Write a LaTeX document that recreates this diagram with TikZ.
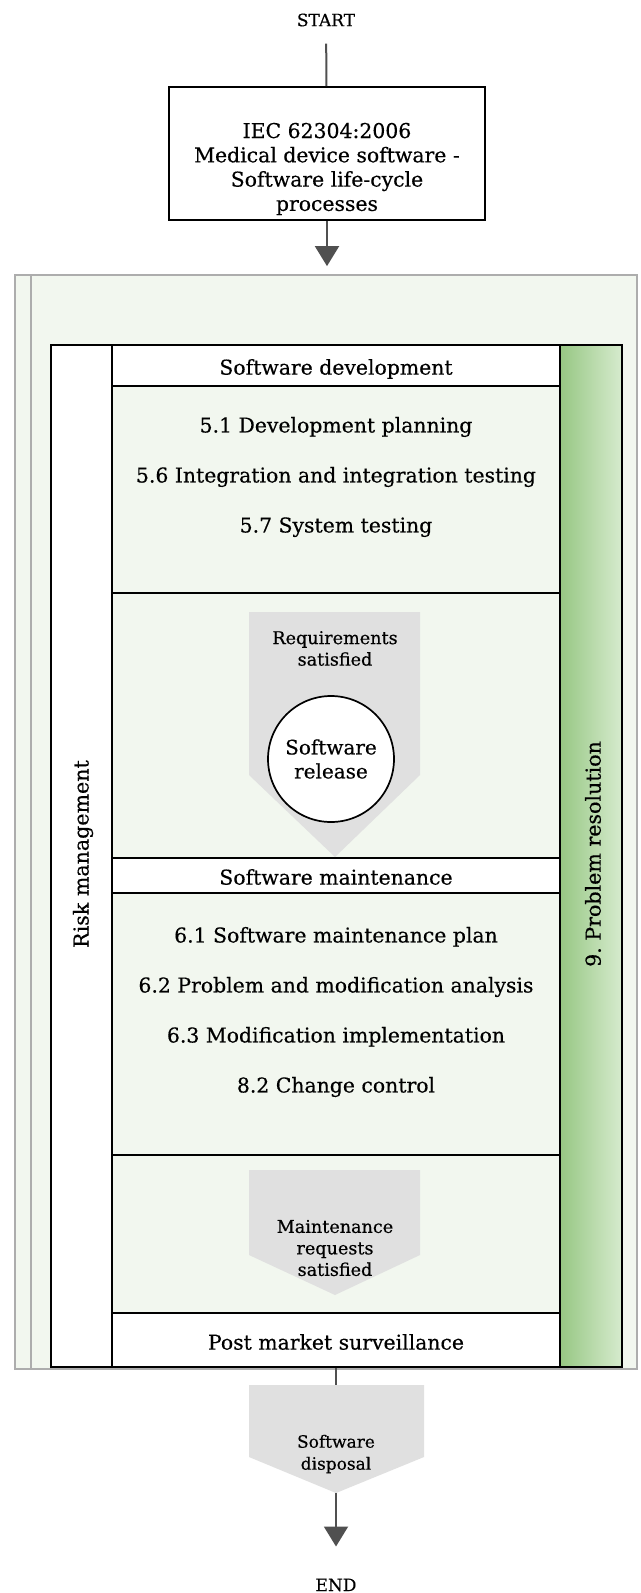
\documentclass[tikz,border=0pt]{standalone}
\usepackage{fontspec}
\setmainfont{DejaVu Serif}[UprightFeatures={FakeBold=0.4}]
\usetikzlibrary{arrows.meta}
\frenchspacing
\definecolor{paleg}{HTML}{F2F7EF}
\definecolor{gborder}{HTML}{ADADAD}
\definecolor{pentg}{HTML}{E0E0E0}
\definecolor{gdark}{HTML}{97C783}
\definecolor{glight}{HTML}{D6EBCE}
\definecolor{arrg}{HTML}{505050}
\begin{document}
\begin{tikzpicture}[x=1pt,y=-1pt,
  cellw/.style={draw=black, line width=1.9pt, fill=white, inner sep=0pt, minimum width=448pt},
  cellg/.style={draw=black, line width=1.9pt, fill=paleg, inner sep=0pt, minimum width=448pt},
  txt/.style={align=center, inner sep=0pt, font=\fontsize{20.4}{24.3}\selectfont},
  items/.style={align=center, inner sep=0pt, font=\fontsize{20.4}{50}\selectfont},
  small/.style={align=center, inner sep=0pt, font=\fontsize{17.6}{21.5}\selectfont},
  pent/.style={fill=pentg},
  conn/.style={draw=arrg, line width=2pt},
  arr/.style={conn, -{Triangle[width=24pt,length=20pt]}}
]
\useasboundingbox (0,0) rectangle (640,1593);
\fill[white] (0,0) rectangle (640,1593);

% start and standard box
\node[small, font=\fontsize{17}{20}\selectfont] (start) at (326,20) {START};
\node[draw=black, line width=1.9pt, minimum width=316pt, minimum height=133pt, inner sep=0pt] (iec) at (327,153.5) {};
\node[txt] (iectext) at (327,169) {IEC 62304:2006\\Medical device software -\\Software life-cycle\\processes};
\draw[conn, shorten <=17pt] (start) -- (iec);

% outer container
\node[draw=gborder, line width=1.8pt, fill=paleg, minimum width=622pt, minimum height=1094pt, inner sep=0pt] (outer) at (326,822) {};
\draw[gborder, line width=1.8pt] (31,275) -- (31,1369);
\draw[arr, shorten >=8pt] (iec) -- (iec |- outer.north);

% risk column
\node[draw=black, line width=1.9pt, fill=white, minimum width=61pt, minimum height=1022pt, inner sep=0pt] (risk) at (81.5,856) {};
\node[txt, rotate=90, font=\fontsize{20.6}{24}\selectfont] (risktext) at (83,854) {Risk management};

% green column
\shade[left color=gdark, right color=glight] (560,345) rectangle (622,1367);
\node[draw=black, line width=1.9pt, minimum width=62pt, minimum height=1022pt, inner sep=0pt] (prob) at (591,856) {};
\node[txt, rotate=90, font=\fontsize{20.6}{24}\selectfont] (probtext) at (593,854) {9. Problem resolution};

% middle column cells
\node[cellw, minimum height=41pt] (devh) at (336,365.5) {};
\node[txt] at (336,369) {Software development};
\node[cellg, minimum height=207pt] (devc) at (336,489.5) {};
\node[items] (devitems) at (336,477) {5.1 Development planning\\5.6 Integration and integration testing\\5.7 System testing};
\node[cellg, minimum height=265pt] (rel) at (336,725.5) {};
\node[cellw, minimum height=35pt] (mainth) at (336,875.5) {};
\node[txt] at (336,877) {Software maintenance};
\node[cellg, minimum height=262pt] (maintc) at (336,1024) {};
\node[items] (maintitems) at (336,1012) {6.1 Software maintenance plan\\6.2 Problem and modification analysis\\6.3 Modification implementation\\8.2 Change control};
\node[cellg, minimum height=158pt] (req) at (336,1234) {};
\node[cellw, minimum height=54pt] (post) at (336,1340) {};
\node[txt] at (336,1342) {Post market surveillance};

% outer black frame
\draw[black, line width=1.9pt] (51,345) rectangle (622,1367);

% release pentagon
\fill[pent] (249,612) -- (420,612) -- (420,775) -- (335,857) -- (249,775) -- cycle;
\node[small] (reqsat) at (335,648.5) {Requirements\\satisfied};
\node[circle, draw=black, line width=1.7pt, fill=white, minimum size=126pt, inner sep=0pt, txt, font=\fontsize{20}{24}\selectfont] (release) at (331,759) {Software\\release};

% maintenance requests pentagon
\fill[pent] (249,1170) -- (420,1170) -- (420,1255) -- (335,1295) -- (249,1255) -- cycle;
\node[small] (mreq) at (335,1248) {Maintenance\\requests\\satisfied};

% disposal pentagon
\coordinate (disptop) at (336,1385);
\coordinate (disptip) at (336,1493);
\fill[pent] (249,1385) -- (424,1385) -- (424,1457) -- (disptip) -- (249,1457) -- cycle;
\node[small, font=\fontsize{17}{22}\selectfont] (disp) at (336,1454) {Software\\disposal};
\draw[conn] (post.south) -- (disptop);

\node[small, font=\fontsize{17}{20}\selectfont] (end) at (336,1585) {END};
\draw[arr, shorten >=32pt] (disptip) -- (end);
\end{tikzpicture}
\end{document}
